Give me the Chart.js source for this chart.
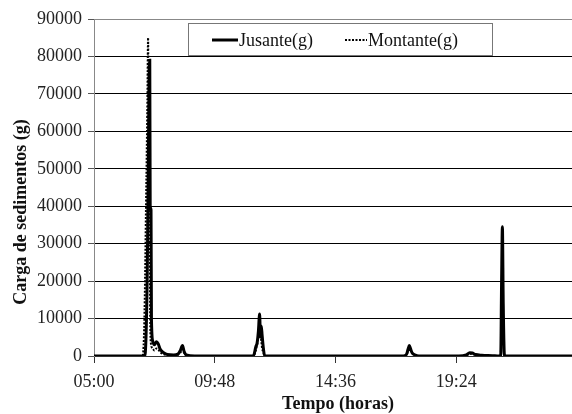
<!DOCTYPE html>
<html>
<head>
<meta charset="utf-8">
<script src="https://cdn.jsdelivr.net/npm/chart.js@4.4.1/dist/chart.umd.min.js"></script>
<style>
  html, body { margin: 0; padding: 0; background: #fff; }
  #wrap { width: 572px; height: 414px; position: relative; }
</style>
</head>
<body>
<div id="wrap"><canvas id="graficoCarga"></canvas></div>
<script>
// minutos desde as 05:00
const tempoMin = [0, 100, 116, 119, 121, 124, 127, 129, 131, 133, 134, 136, 137, 140, 144, 149, 153, 158, 166, 175,
  190, 200, 206, 211, 215, 220, 240, 380, 386, 389, 392, 395, 397, 399, 401, 404, 407, 415,
  738, 745, 749, 752, 755, 759, 765, 775, 870, 888, 896, 902, 910, 925, 950, 966,
  970, 972, 974, 976, 979, 990, 1140];

const jusante = [0, 0, 0, 0, 0, 5000, 22000, 45000, 68000, 79000, 40000, 39000, 10000, 4000, 3000, 3800, 3300, 1800, 900, 400,
  300, 500, 1500, 2800, 1200, 300, 0, 0, 2500, 3500, 6500, 11200, 5000, 8000, 5500, 2000, 0, 0,
  0, 400, 1800, 2800, 1900, 800, 300, 0, 0, 300, 900, 800, 400, 200, 100, 0,
  0, 19000, 34500, 14000, 0, 0, 0];

const montante = [0, 0, 0, 5000, 15000, 40000, 65000, 85000, 38000, 30000, 10000, 3000, 2500, 2000, 1500, 2000, 1800, 1000, 500, 200,
  100, 300, 900, 1800, 800, 200, 0, 0, 1500, 3000, 5000, 8000, 6000, 4000, 2000, 1000, 0, 0,
  0, 300, 1200, 2000, 1500, 700, 300, 0, 0, 200, 600, 500, 300, 100, 0, 0,
  0, 12000, 20000, 8000, 0, 0, 0];

const ticksTempo = [0, 288, 576, 864];
const rotulosTempo = ["05:00", "09:48", "14:36", "19:24"];
const ticksCarga = [0, 10000, 20000, 30000, 40000, 50000, 60000, 70000, 80000, 90000];

const fonteSerif = "'Liberation Serif', 'Times New Roman', serif";

const pontos = serie => tempoMin.map((t, i) => ({ x: t, y: serie[i] }));

// moldura superior, titulos e legenda desenhados a mao
const extras = {
  id: "extras",
  afterDraw(chart) {
    const ctx = chart.ctx;
    const area = chart.chartArea;
    ctx.save();

    ctx.strokeStyle = "#888";
    ctx.lineWidth = 1;
    ctx.beginPath();
    ctx.moveTo(area.left, area.top + 0.5);
    ctx.lineTo(area.right, area.top + 0.5);
    ctx.stroke();

    ctx.fillStyle = "#111";
    ctx.font = "bold 18px " + fonteSerif;
    ctx.textAlign = "center";
    ctx.textBaseline = "middle";
    ctx.fillText("Tempo (horas)", 338, 404);

    ctx.save();
    ctx.translate(21, 212);
    ctx.rotate(-Math.PI / 2);
    ctx.fillText("Carga de sedimentos (g)", 0, 0);
    ctx.restore();

    // legenda
    ctx.fillStyle = "#fff";
    ctx.fillRect(188, 23, 304, 32);
    ctx.strokeStyle = "#777";
    ctx.strokeRect(188.5, 23.5, 304, 32);

    const ds = chart.data.datasets;
    const yLeg = 40;
    ctx.font = "18px " + fonteSerif;
    ctx.textAlign = "left";
    ctx.fillStyle = "#111";

    ctx.strokeStyle = ds[0].borderColor;
    ctx.lineWidth = 3;
    ctx.setLineDash([]);
    ctx.beginPath();
    ctx.moveTo(212, yLeg);
    ctx.lineTo(238, yLeg);
    ctx.stroke();
    ctx.fillText(ds[0].label, 239, yLeg + 1);

    ctx.strokeStyle = ds[1].borderColor;
    ctx.lineWidth = 2;
    ctx.setLineDash(ds[1].borderDash);
    ctx.beginPath();
    ctx.moveTo(345, yLeg);
    ctx.lineTo(367, yLeg);
    ctx.stroke();
    ctx.setLineDash([]);
    ctx.fillText(ds[1].label, 368, yLeg + 1);

    ctx.restore();
  }
};

const grafico = new Chart(document.getElementById("graficoCarga"), {
  type: "line",
  data: {
    datasets: [
      {
        label: "Jusante(g)",
        data: pontos(jusante),
        borderColor: "#000",
        borderWidth: 3,
        pointRadius: 0,
        cubicInterpolationMode: "monotone",
        fill: false
      },
      {
        label: "Montante(g)",
        data: pontos(montante),
        borderColor: "#000",
        borderWidth: 2,
        borderDash: [2, 1.5],
        pointRadius: 0,
        cubicInterpolationMode: "monotone",
        fill: false
      }
    ]
  },
  options: {
    responsive: true,
    maintainAspectRatio: false,
    animation: false,
    layout: { padding: { top: 19, right: 0, left: 0, bottom: 0 } },
    plugins: {
      legend: { display: false },
      tooltip: { enabled: false }
    },
    scales: {
      x: {
        type: "linear",
        min: 0,
        max: 1140,
        afterBuildTicks: scale => {
          scale.ticks = ticksTempo.map(v => ({ value: v }));
        },
        afterFit: scale => { scale.height = 58; },
        ticks: {
          autoSkip: false,
          maxRotation: 0,
          padding: 8,
          color: "#222",
          font: { family: fonteSerif, size: 18 },
          callback: function (value) {
            const i = ticksTempo.indexOf(value);
            return i >= 0 ? rotulosTempo[i] : "";
          }
        },
        grid: {
          drawOnChartArea: false,
          drawTicks: true,
          tickLength: 7,
          tickColor: "#333"
        },
        border: { color: "#333", width: 1 }
      },
      y: {
        min: 0,
        max: 90000,
        afterBuildTicks: scale => {
          scale.ticks = ticksCarga.map(v => ({ value: v }));
        },
        afterFit: scale => { scale.width = 94; },
        ticks: {
          padding: 6,
          color: "#222",
          font: { family: fonteSerif, size: 18 },
          callback: v => String(v)
        },
        grid: {
          color: c => (c.tick && (c.tick.value === 0 || c.tick.value === 90000)) ? "rgba(0,0,0,0)" : "#000",
          lineWidth: 1,
          borderDash: [4, 2],
          tickLength: 6,
          tickColor: "#555",
          tickBorderDash: []
        },
        border: { color: "#888", width: 1 }
      }
    }
  },
  plugins: [extras]
});
</script>
</body>
</html>
